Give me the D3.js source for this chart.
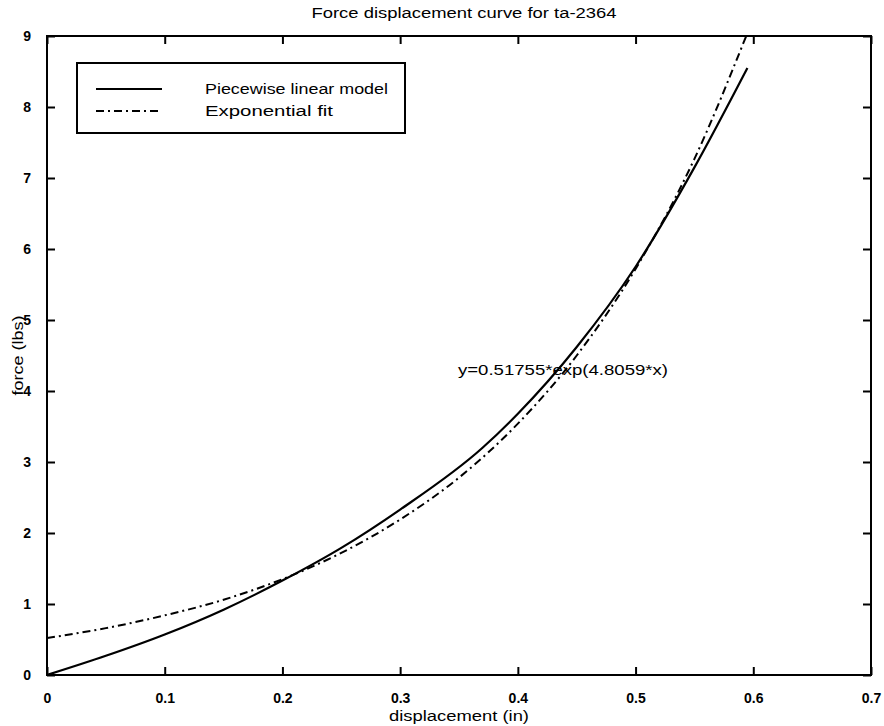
<!DOCTYPE html>
<html><head><meta charset="utf-8">
<script src="https://cdn.jsdelivr.net/npm/d3@7/dist/d3.min.js"></script>
<style>body{margin:0;background:#fff}svg{display:block}text{font-family:"Liberation Sans",Arial,sans-serif;fill:#000}</style>
</head><body>
<svg id="c" width="884" height="726"></svg>
<script>
const xTicks = [0,0.1,0.2,0.3,0.4,0.5,0.6,0.7];
const yTicks = [0,1,2,3,4,5,6,7,8,9];
const pieceX = [0,0.05,0.1,0.15,0.2,0.25,0.3,0.37,0.4,0.45,0.5,0.55,0.595];
const pieceY = [0,0.27,0.57,0.92,1.33,1.79,2.33,3.2,3.68,4.62,5.75,7.15,8.55];
const expX = [0,0.05,0.1,0.15,0.2,0.25,0.3,0.35,0.4,0.45,0.5,0.55,0.594];
const expY = [0.52,0.66,0.84,1.06,1.35,1.72,2.19,2.78,3.54,4.50,5.72,7.27,9.0];
const seriesNames = ["Piecewise linear model","Exponential fit"];
const titleText = "Force displacement curve for ta-2364";
const xLabel = "displacement (in)";
const yLabel = "force (lbs)";
const annot = "y=0.51755*exp(4.8059*x)";

const svg = d3.select("#c");
const L=47,R=871,T=36,B=675;
const x = d3.scaleLinear().domain([0,0.7]).range([L,R]);
const y = d3.scaleLinear().domain([0,9]).range([B,T]);

svg.append("defs").append("clipPath").attr("id","clip").append("rect")
  .attr("x",L).attr("y",T).attr("width",R-L).attr("height",B-T);

// axes with inward ticks
const tl=8;
svg.append("g").attr("transform",`translate(0,${B})`)
  .call(d3.axisBottom(x).tickValues(xTicks).tickSize(-tl).tickPadding(10+tl).tickFormat(d3.format("")))
  .call(g=>g.select(".domain").remove());
svg.append("g").attr("transform",`translate(0,${T})`)
  .call(d3.axisTop(x).tickValues(xTicks).tickSize(-tl).tickFormat(""))
  .call(g=>g.select(".domain").remove());
svg.append("g").attr("transform",`translate(${L},0)`)
  .call(d3.axisLeft(y).tickValues(yTicks).tickSize(-tl).tickPadding(8+tl).tickFormat(d3.format("")))
  .call(g=>g.select(".domain").remove());
svg.append("g").attr("transform",`translate(${R},0)`)
  .call(d3.axisRight(y).tickValues(yTicks).tickSize(-tl).tickFormat(""))
  .call(g=>g.select(".domain").remove());
svg.selectAll(".tick line").attr("stroke","#000").attr("stroke-width",2);
svg.selectAll(".tick text").attr("font-size",14).attr("font-weight","bold").attr("fill","#000");

svg.append("rect").attr("x",L).attr("y",T).attr("width",R-L).attr("height",B-T)
  .attr("fill","none").attr("stroke","#000").attr("stroke-width",2);

const line = d3.line().x(d=>x(d[0])).y(d=>y(d[1])).curve(d3.curveMonotoneX);
const g = svg.append("g").attr("clip-path","url(#clip)");
g.append("path").datum(pieceX.map((v,i)=>[v,pieceY[i]]))
  .attr("d",line).attr("fill","none").attr("stroke","#000").attr("stroke-width",2.2);
g.append("path").datum(expX.map((v,i)=>[v,expY[i]]))
  .attr("d",line).attr("fill","none").attr("stroke","#000").attr("stroke-width",2)
  .attr("stroke-dasharray","8,4,2,4");

// title & labels
svg.append("text").attr("x",464).attr("y",18).attr("text-anchor","middle")
  .attr("font-size",14).attr("textLength",305).attr("lengthAdjust","spacingAndGlyphs").text(titleText);
svg.append("text").attr("x",(L+R)/2).attr("y",721).attr("text-anchor","middle")
  .attr("font-size",14).attr("textLength",140).attr("lengthAdjust","spacingAndGlyphs").text(xLabel);
svg.append("text").attr("transform",`translate(23,${(T+B)/2}) rotate(-90)`).attr("text-anchor","middle")
  .attr("font-size",14).attr("textLength",80).attr("lengthAdjust","spacingAndGlyphs").text(yLabel);

svg.append("text").attr("x",458).attr("y",375).attr("font-size",14)
  .attr("textLength",210).attr("lengthAdjust","spacingAndGlyphs").text(annot);

// legend
const lg = svg.append("g");
lg.append("rect").attr("x",77).attr("y",63).attr("width",328).attr("height",70)
  .attr("fill","#fff").attr("stroke","#000").attr("stroke-width",2);
const rowsY=[89,111];
const dashes=[null,"8,4,2,4"];
const lens=[183,128];
seriesNames.forEach((n,i)=>{
  lg.append("line").attr("x1",96).attr("x2",162).attr("y1",rowsY[i]).attr("y2",rowsY[i])
    .attr("stroke","#000").attr("stroke-width",2).attr("stroke-dasharray",dashes[i]);
  lg.append("text").attr("x",205).attr("y",rowsY[i]+5).attr("font-size",14)
    .attr("textLength",lens[i]).attr("lengthAdjust","spacingAndGlyphs").text(n);
});
</script>
</body></html>
